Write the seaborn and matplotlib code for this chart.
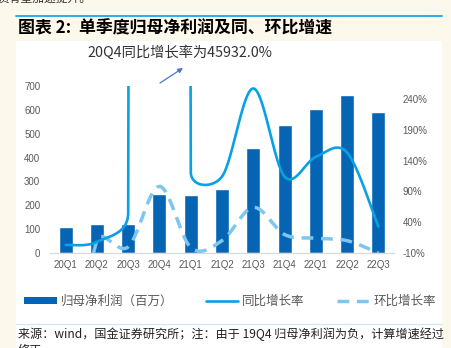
import numpy as np
import matplotlib
matplotlib.use("Agg")
import matplotlib.pyplot as plt
import seaborn as sns
import pandas as pd
from matplotlib.patches import Rectangle, Patch
from matplotlib.lines import Line2D
from matplotlib.ticker import FixedLocator, FuncFormatter

# ---------------- data ----------------
quarters = ["20Q1", "20Q2", "20Q3", "20Q4", "21Q1", "21Q2",
            "21Q3", "21Q4", "22Q1", "22Q2", "22Q3"]
net_profit = [110, 121, 121, 247, 243, 267, 439, 535, 605, 663, 590]       # 百万
yoy_growth = [3, 8, 55, 45932, 122, 114, 257, 114, 146, 153, 33]           # %
qoq_growth = [-300, 10, 0, 98, -1, 10, 64, 20, 14, 10, -10]                 # %
left_ticks = [0, 100, 200, 300, 400, 500, 600, 700]
right_ticks = [-10, 40, 90, 140, 190, 240]

title = "图表 2:  单季度归母净利润及同、环比增速"
note = "20Q4同比增长率为45932.0%"
legend_labels = ["归母净利润（百万）", "同比增长率", "环比增长率"]
source = "来源：wind，国金证券研究所；注：由于 19Q4 归母净利润为负，计算增速经过\n修正。"
top_text = "资有望加速提升。"

# ---------------- style ----------------
sns.set_style("white")
plt.rcParams["font.family"] = ["Liberation Sans", "Noto Sans CJK SC", "DejaVu Sans"]
CJK = ["Noto Sans CJK SC", "DejaVu Sans"]

BAR = "#0565b4"
YOY = "#09a0e6"
QOQ = "#7cc6ef"
GRAY = "#595959"

W, H = 452, 348
fig = plt.figure(figsize=(W / 100, H / 100), dpi=100)
fig.patch.set_facecolor("#fdf8ec")
fig.add_artist(Rectangle((16 / W, 0), (442 - 16) / W, (H - 41) / H,
                         transform=fig.transFigure, facecolor="white",
                         edgecolor="none", zorder=0))
fig.add_artist(Line2D([16 / W, 442 / W], [(H - 16) / H] * 2, color="#1aa6ea",
                      lw=1.3, transform=fig.transFigure))
fig.add_artist(Line2D([16 / W, 442 / W], [(H - 324) / H] * 2, color="#cfe7f6",
                      lw=0.9, transform=fig.transFigure))

ax_l, ax_r, ax_t, ax_b = 50, 394, 86, 253
ax = fig.add_axes([ax_l / W, (H - ax_b) / H, (ax_r - ax_l) / W, (ax_b - ax_t) / H])
ax.set_facecolor("none")

df = pd.DataFrame({"q": quarters, "v": net_profit})
sns.barplot(data=df, x="q", y="v", color=BAR, width=0.45, saturation=1,
            ax=ax, zorder=2)
ax.set_ylim(0, 700)
ax.set_xlim(-0.5, len(quarters) - 0.5)
ax.set_yticks(left_ticks)
ax.set_xlabel("")
ax.set_ylabel("")
for s in ["left", "right", "top"]:
    ax.spines[s].set_visible(False)
ax.spines["bottom"].set_color("#d9d9d9")
ax.spines["bottom"].set_linewidth(0.9)
ax.tick_params(axis="y", length=0, pad=7, labelsize=7, labelcolor=GRAY)
ax.tick_params(axis="x", which="major", length=0, pad=5, labelsize=7, labelcolor=GRAY)
ax.xaxis.set_minor_locator(FixedLocator(np.arange(-0.5, len(quarters), 1.0)))
ax.tick_params(axis="x", which="minor", length=3, width=0.8, color="#d9d9d9")

ax2 = ax.twinx()
ax2.set_ylim(-10, 261)
ax2.set_yticks(right_ticks)
ax2.yaxis.set_major_formatter(FuncFormatter(lambda v, p: f"{v:.0f}%"))
for s in ["left", "right", "top", "bottom"]:
    ax2.spines[s].set_visible(False)
ax2.tick_params(axis="y", length=0, pad=6, labelsize=7, labelcolor=GRAY)

# pixel scales used for the Excel-like smoothing
sx = (ax_r - ax_l) / len(quarters)
sy = (ax_b - ax_t) / 271.0


def smooth(vals):
    P = np.array([[i * sx, v * sy] for i, v in enumerate(vals)], dtype=float)
    n = len(P)
    T = []
    for i in range(n):
        prev = P[i - 1] if i > 0 else P[i]
        nxt = P[i + 1] if i < n - 1 else P[i]
        T.append((nxt - prev) / 6.0)
    xs, ys = [], []
    t = np.linspace(0, 1, 400)[:, None]
    for i in range(n - 1):
        d = np.linalg.norm(P[i + 1] - P[i])
        t1, t2 = T[i].copy(), T[i + 1].copy()
        for tv in (t1, t2):
            m = np.linalg.norm(tv)
            if m > d / 2:
                tv *= (d / 2) / m
        c1 = P[i] + t1
        c2 = P[i + 1] - t2
        B = ((1 - t) ** 3) * P[i] + 3 * ((1 - t) ** 2) * t * c1 \
            + 3 * (1 - t) * t ** 2 * c2 + t ** 3 * P[i + 1]
        xs.extend(B[:, 0] / sx)
        ys.extend(B[:, 1] / sy)
    return np.array(xs), np.array(ys)


xq, yq = smooth(qoq_growth)
ax2.plot(xq, yq, color=QOQ, lw=2.5, dashes=(3.4, 2.2), solid_capstyle="butt",
         zorder=3)
xy, yy = smooth(yoy_growth)
ax2.plot(xy, yy, color=YOY, lw=1.9, zorder=4, solid_capstyle="round")

# ---------------- texts ----------------
fig.text(-3 / W, (H + 2) / H, top_text, family=CJK, fontsize=8.5,
         color="#333333", ha="left", va="center")
fig.text(18 / W, (H - 28) / H, title, family=CJK, fontsize=12.2,
         fontweight="bold", color="black", ha="left", va="center")
fig.text(87 / W, (H - 53) / H, note, family=CJK, fontsize=10.3,
         color="#333333", ha="left", va="center")
ax.annotate("", xy=(183, H - 68), xycoords="figure pixels",
            xytext=(160, H - 83), textcoords="figure pixels",
            arrowprops=dict(arrowstyle="-|>", color="#4a78c8", lw=0.9,
                            mutation_scale=7, shrinkA=0, shrinkB=0))
fig.text(18 / W, (H - 327) / H, source, family=CJK, fontsize=8.7,
         color="#222222", ha="left", va="top", linespacing=1.35)

handles = [Patch(facecolor=BAR, edgecolor="none"),
           Line2D([], [], color=YOY, lw=1.9),
           Line2D([], [], color=QOQ, lw=2.5, dashes=(3.4, 2.2))]
leg = fig.legend(handles, legend_labels, loc="center",
                 bbox_to_anchor=(230 / W, (H - 301) / H), ncol=3,
                 frameon=False, handlelength=2.6, handleheight=0.5,
                 handletextpad=0.3, columnspacing=2.6,
                 prop={"family": CJK, "size": 9})
for t in leg.get_texts():
    t.set_color(GRAY)

fig.savefig("out.png", dpi=100, facecolor=fig.get_facecolor())
